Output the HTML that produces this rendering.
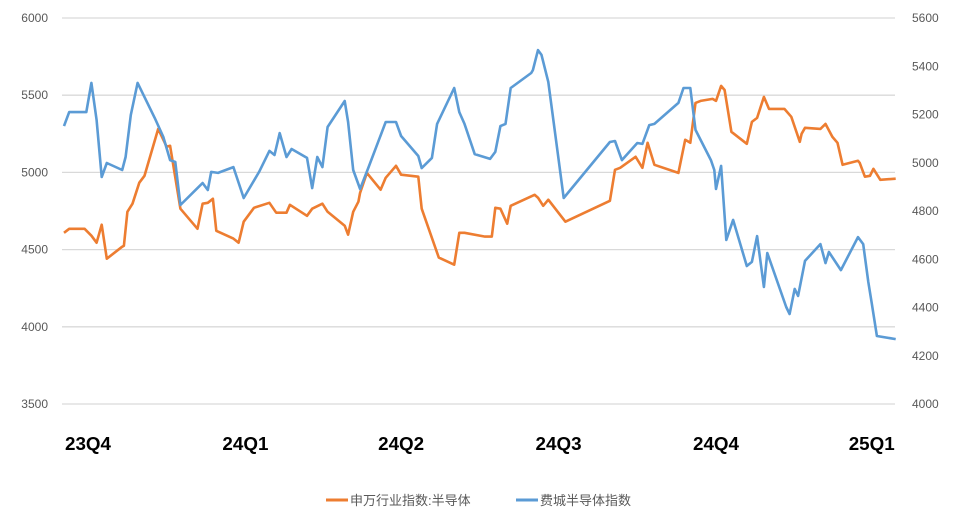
<!DOCTYPE html>
<html><head><meta charset="utf-8"><style>
body{margin:0;background:#fff;width:961px;height:526px;overflow:hidden}
svg{display:block;font-family:"Liberation Sans","Noto Sans CJK SC",sans-serif}
</style></head><body>
<svg id="chart" width="961" height="526"></svg>
<script>
const leftTicks=[3500,4000,4500,5000,5500,6000];
const rightTicks=[4000,4200,4400,4600,4800,5000,5200,5400,5600];
const quarterLabels=["23Q4","24Q1","24Q2","24Q3","24Q4","25Q1"];
const quarterDays=[0,92,183,275,367,458];
const swDays=[-14,-11,-2,2,5,8,11,20,21,23,26,30,33,41,46,48,54,64,67,70,73,75,85,88,91,97,106,110,116,118,128,131,137,140,150,152,155,158,159,163,171,174,180,183,193,195,205,214,217,220,232,236,238,241,245,247,261,263,266,269,279,305,308,311,320,324,327,331,345,349,352,355,358,365,367,370,372,376,385,388,391,395,398,407,411,416,417,419,428,431,435,438,441,450,451,454,457,459,463,472];
const swValues=[4609,4635,4635,4590,4545,4661,4441,4519,4525,4745,4797,4933,4978,5282,5166,5172,4765,4635,4797,4803,4829,4622,4571,4545,4681,4771,4803,4739,4739,4790,4719,4765,4797,4745,4655,4597,4745,4810,4868,4997,4888,4965,5043,4985,4972,4765,4448,4402,4609,4609,4584,4584,4771,4765,4668,4784,4855,4836,4784,4823,4681,4816,5017,5030,5101,5030,5192,5049,4997,5211,5192,5450,5463,5476,5463,5560,5534,5263,5185,5327,5353,5489,5411,5411,5360,5198,5250,5289,5282,5314,5230,5192,5049,5075,5062,4972,4978,5023,4952,4959];
const soxDays=[-14,-11,-1,2,5,8,11,20,22,25,29,39,44,48,51,54,64,67,70,72,76,85,91,100,106,109,112,116,119,128,131,134,137,140,150,152,155,159,164,174,180,183,193,195,201,204,214,217,220,226,235,238,241,244,247,259,260,263,265,269,278,305,308,312,321,324,328,331,345,348,352,355,364,366,367,370,373,377,385,388,391,395,397,408,410,413,415,419,428,431,433,440,450,453,456,458,461,472];
const soxValues=[5152,5210,5210,5331,5177,4941,4999,4970,5024,5198,5331,5186,5107,5011,5003,4825,4895,4916,4887,4962,4958,4982,4854,4962,5049,5032,5123,5024,5057,5020,4895,5024,4982,5148,5256,5169,4970,4891,4982,5169,5169,5111,5028,4978,5020,5161,5310,5210,5161,5036,5016,5045,5152,5161,5310,5372,5384,5467,5447,5335,4854,5086,5090,5011,5082,5078,5156,5161,5248,5310,5310,5136,5011,4970,4891,4987,4680,4763,4572,4589,4696,4485,4626,4402,4373,4477,4448,4593,4663,4584,4630,4555,4692,4663,4506,4419,4282,4269];

const NS="http://www.w3.org/2000/svg";
const svg=document.getElementById('chart');
const X0=62,X1=895,Y0=404,Y1=18;
const xs=d=>88+d*(716-88)/367;
const yl=v=>Y0-(v-3500)/(6000-3500)*(Y0-Y1);
const yr=v=>Y0-(v-4000)/(5600-4000)*(Y0-Y1);
function mk(tag,attrs,parent){const e=document.createElementNS(NS,tag);for(const k in attrs)e.setAttribute(k,attrs[k]);(parent||svg).appendChild(e);return e;}

leftTicks.forEach(t=>{
  const g=mk('line',{x1:X0,x2:X1,y1:yl(t),y2:yl(t),stroke:'#d9d9d9','stroke-width':1.3});
  
  
  const tx=mk('text',{x:48,y:yl(t)+4,'text-anchor':'end','font-size':12,fill:'#595959'});
  tx.textContent=t;
  
  
});
rightTicks.forEach(t=>{
  const tx=mk('text',{x:912,y:yr(t)+4,'font-size':12,fill:'#595959'});
  tx.textContent=t;
  
  
});
quarterLabels.forEach((q,i)=>{
  const tx=mk('text',{x:xs(quarterDays[i]),y:450,'text-anchor':'middle','font-size':18,fill:'#000','font-weight':'bold',textLength:46,lengthAdjust:'spacingAndGlyphs'});
  tx.textContent=q;
  
  
});
function line(days,vals,sc,color,name){
  const pts=days.map((d,i)=>xs(d).toFixed(1)+','+sc(vals[i]).toFixed(1)).join(' ');
  const p=mk('polyline',{points:pts,fill:'none',stroke:color,'stroke-width':2.6,'stroke-linejoin':'round'});
  
  
}
line(swDays,swValues,yl,'#ED7D31','sw-semiconductor-line');
line(soxDays,soxValues,yr,'#5B9BD5','sox-index-line');

const lg=mk('g',{});


const l1=mk('line',{x1:326,x2:348,y1:500,y2:500,stroke:'#ED7D31','stroke-width':3},lg);


const t1=mk('text',{x:350,y:505,'font-size':13,fill:'#595959'},lg);
t1.textContent='申万行业指数:半导体';


const l2=mk('line',{x1:516,x2:538,y1:500,y2:500,stroke:'#5B9BD5','stroke-width':3},lg);


const t2=mk('text',{x:540,y:505,'font-size':13,fill:'#595959'},lg);
t2.textContent='费城半导体指数';


</script>
</body></html>
